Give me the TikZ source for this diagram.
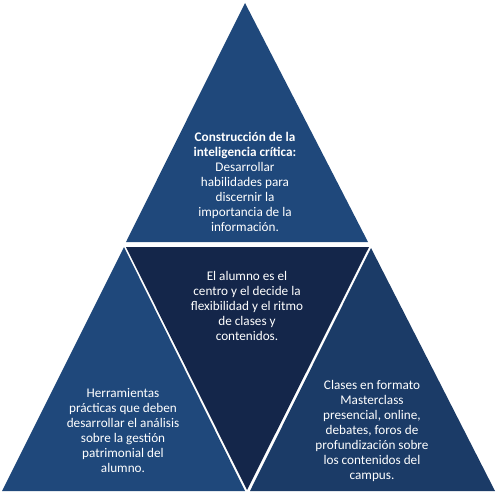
\documentclass[tikz,border=0pt]{standalone}
\usepackage{xcolor}
\usepackage{fontspec}
\setmainfont{Carlito}
\usepackage{tikz}
\definecolor{PyBlue}{HTML}{1F487B}
\definecolor{PyBlueDark}{HTML}{1B3B67}
\definecolor{PyNavy}{HTML}{14264A}

\begin{document}
\begin{tikzpicture}[x=1pt,y=-1pt,
  txt/.style={text=white,align=center,font=\fontsize{13.2}{15}\selectfont}]
\path[use as bounding box] (0,0) rectangle (497,495);
\fill[PyBlue] (245,3) -- (368,242) -- (126,242) -- cycle;
\fill[PyBlue] (124,247) -- (245,491) -- (2,491) -- cycle;
\fill[PyBlueDark] (371,248) -- (495,491) -- (250,491) -- cycle;
\fill[PyNavy] (126,247) -- (369,247) -- (247,490) -- cycle;
\node[txt] (top) at (245,182) {\textbf{Construcción de la}\\ \textbf{inteligencia crítica:}\\ Desarrollar\\ habilidades para\\ discernir la\\ importancia de la\\ información.};
\node[txt] (centro) at (247,306) {El alumno es el\\ centro y el decide la\\ flexibilidad y el ritmo\\ de clases y\\ contenidos.};
\node[txt] (izq) at (123,431) {Herramientas\\ prácticas que deben\\ desarrollar el análisis\\ sobre la gestión\\ patrimonial del\\ alumno.};
\node[txt] (der) at (372,431) {Clases en formato\\ Masterclass\\ presencial, online,\\ debates, foros de\\ profundización sobre\\ los contenidos del\\ campus.};
\end{tikzpicture}
\end{document}
